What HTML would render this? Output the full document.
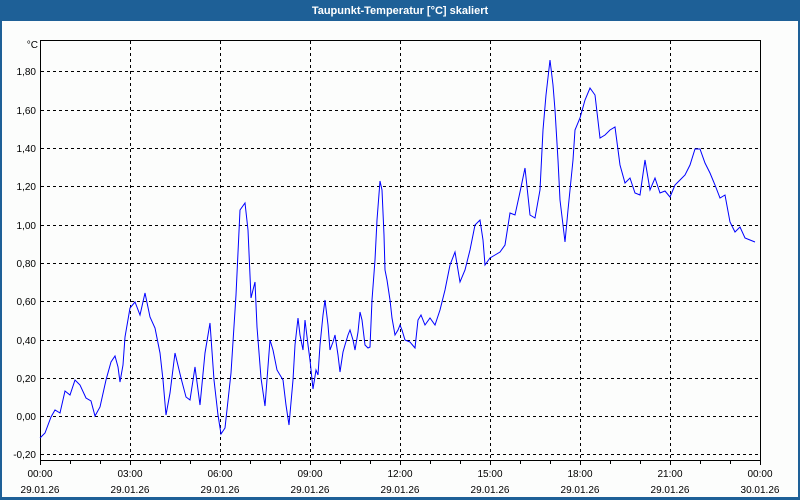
<!DOCTYPE html>
<html><head><meta charset="utf-8"><style>
html,body{margin:0;padding:0;background:#fff;}
svg{display:block;font-family:"Liberation Sans","DejaVu Sans",sans-serif;}
</style></head><body>
<svg width="800" height="500" viewBox="0 0 800 500" xmlns="http://www.w3.org/2000/svg">
<rect x="0" y="0" width="800" height="500" fill="#1e6097"/>
<rect x="2" y="21" width="796" height="476" fill="#fcfdfc"/>
<text x="400" y="14" fill="#fff" font-size="11" font-weight="bold" text-anchor="middle">Taupunkt-Temperatur [°C] skaliert</text>
<g stroke="#000" stroke-width="1" stroke-dasharray="3,3" fill="none">
<path d="M130.5 41V459M220.5 41V459M310.5 41V459M400.5 41V459M490.5 41V459M580.5 41V459M670.5 41V459"/>
<path d="M41 71.5H759M41 110.5H759M41 148.5H759M41 186.5H759M41 225.5H759M41 263.5H759M41 301.5H759M41 340.5H759M41 378.5H759M41 416.5H759M41 454.5H759"/>
</g>
<rect x="40.5" y="40.5" width="720" height="420" fill="none" stroke="#000" stroke-width="1"/>
<g stroke="#000" stroke-width="1">
<path d="M40.5 461V465M70.5 461V464M100.5 461V464M130.5 461V465M160.5 461V464M190.5 461V464M220.5 461V465M250.5 461V464M280.5 461V464M310.5 461V465M340.5 461V464M370.5 461V464M400.5 461V465M430.5 461V464M460.5 461V464M490.5 461V465M520.5 461V464M550.5 461V464M580.5 461V465M610.5 461V464M640.5 461V464M670.5 461V465M700.5 461V464M730.5 461V464M760.5 461V465"/>
</g>
<g font-size="10" fill="#000" text-anchor="end">
<text x="38" y="48">°C</text>
<text x="36" y="75">1,80</text><text x="36" y="114">1,60</text><text x="36" y="152">1,40</text>
<text x="36" y="190">1,20</text><text x="36" y="229">1,00</text><text x="36" y="267">0,80</text>
<text x="36" y="305">0,60</text><text x="36" y="344">0,40</text><text x="36" y="382">0,20</text>
<text x="36" y="420">0,00</text><text x="36" y="458">-0,20</text>
</g>
<g font-size="10" fill="#000" text-anchor="middle">
<text x="40" y="477">00:00</text><text x="130" y="477">03:00</text><text x="220" y="477">06:00</text><text x="310" y="477">09:00</text><text x="400" y="477">12:00</text><text x="490" y="477">15:00</text><text x="580" y="477">18:00</text><text x="670" y="477">21:00</text><text x="760" y="477">00:00</text>
<text x="40" y="493">29.01.26</text><text x="130" y="493">29.01.26</text><text x="220" y="493">29.01.26</text><text x="310" y="493">29.01.26</text><text x="400" y="493">29.01.26</text><text x="490" y="493">29.01.26</text><text x="580" y="493">29.01.26</text><text x="670" y="493">29.01.26</text><text x="760" y="493">30.01.26</text>
</g>
<polyline fill="none" stroke="#0000ff" stroke-width="1" points="40,438 45,433 51,417 55,410 60,413 65,391 70,395 75,380 80,385 86,398 91,401 95,416 100,407 106,380 111,362 115,356 118,367 120,382 123,365 125,337 130,308 135,302 140,315 145,293 150,317 155,328 160,353 163,380 166,415 170,393 175,353 181,378 186,397 190,400 195,367 200,405 205,353 210,323 214,380 218,415 221,434 225,428 231,373 236,295 240,210 245,203 248,230 251,298 255,282 257,327 261,378 265,406 270,340 273,350 277,370 283,380 286,405 289,425 293,380 295,345 298,318 300,335 303,350 305,320 308,345 310,360 313,389 316,370 318,375 320,345 323,315 325,300 328,325 330,350 333,342 335,335 338,355 340,372 343,352 345,345 348,335 350,330 353,340 355,350 358,332 360,312 362,320 365,345 368,348 370,347 372,300 375,260 377,220 380,181 382,190 384,235 385,270 387,280 390,300 392,318 395,335 398,330 400,325 402,330 405,340 410,342 415,348 418,320 421,315 425,325 430,318 435,325 440,310 445,290 450,265 455,252 460,282 465,270 470,250 475,225 480,220 483,240 485,265 490,258 495,255 500,252 505,245 510,213 515,215 520,192 525,168 530,215 535,218 540,190 543,130 546,95 550,60 553,85 555,110 558,160 560,200 563,225 565,242 568,210 570,190 573,160 575,130 580,118 585,100 590,88 595,95 600,138 605,135 610,130 615,127 620,165 625,183 630,178 635,193 640,195 645,160 650,190 655,178 660,193 665,191 670,197 675,185 680,180 685,175 690,165 695,149 700,149 705,163 710,173 715,185 720,198 725,195 730,222 735,232 740,227 745,238 750,240 755,242"/>
</svg>
</body></html>
